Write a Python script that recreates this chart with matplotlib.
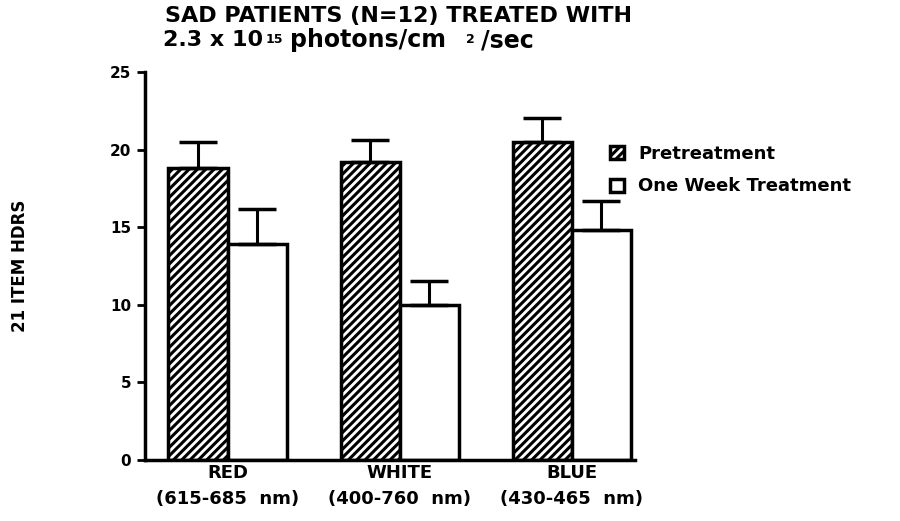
import numpy as np
import matplotlib.pyplot as plt

plt.rcParams['font.family'] = ['DejaVu Sans']
plt.rcParams['font.weight'] = 'bold'
plt.rcParams['hatch.linewidth'] = 2.2

groups = ["RED", "WHITE", "BLUE"]
ranges = ["(615-685  nm)", "(400-760  nm)", "(430-465  nm)"]
pre = [18.8, 19.2, 20.5]
pre_err = [1.7, 1.4, 1.5]
week = [13.9, 10.0, 14.8]
week_err = [2.3, 1.5, 1.9]

x = np.arange(len(groups))
w = 0.343

fig = plt.figure(figsize=(9, 5.21), dpi=100)
ax = fig.add_axes([0.161, 0.117, 0.545, 0.745])

ax.bar(x - w/2, pre, w, color='white', edgecolor='black', hatch='////', linewidth=2.5,
       yerr=[np.zeros(3), pre_err], error_kw=dict(ecolor='black', elinewidth=2.2, capsize=14, capthick=2.5),
       label='Pretreatment')
ax.bar(x + w/2, week, w, color='white', edgecolor='black', linewidth=2.5,
       yerr=[np.zeros(3), week_err], error_kw=dict(ecolor='black', elinewidth=2.2, capsize=14, capthick=2.5),
       label='One Week Treatment')

ax.set_xlim(-0.48, 2.37)
ax.set_ylim(0, 25)
ax.set_yticks([0, 5, 10, 15, 20, 25])
ax.tick_params(axis='y', direction='out', length=6, width=2, labelsize=11, pad=4)
ax.set_xticks([])
for s in ['top', 'right']:
    ax.spines[s].set_visible(False)
ax.spines['left'].set_linewidth(2.5)
ax.spines['bottom'].set_linewidth(2.5)

for i in range(len(groups)):
    ax.text(x[i], -0.25, groups[i], ha='center', va='top', fontsize=13, fontweight='bold')
    ax.text(x[i], -1.95, ranges[i], ha='center', va='top', fontsize=13, fontweight='bold')

ax.set_ylabel("21 ITEM HDRS", fontsize=12, fontweight='bold')
ax.yaxis.set_label_coords(-0.237, 0.5)

fig.text(0.183, 0.969, "SAD PATIENTS (N=12) TREATED WITH", fontsize=16, fontweight='bold', va='center')
# second title line built from pieces so the superscripts stay small
t1 = fig.text(0.181, 0.923, "2.3 x 10", fontsize=16, fontweight='bold', va='center')
t2 = ax.annotate("15", xy=(1, 0.88), xycoords=t1, xytext=(2, 0), textcoords='offset points',
                 fontsize=9, fontweight='bold', va='top')
t3 = ax.annotate("photons/cm", xy=(1, 0.5), xycoords=(t2, t1), xytext=(5, 0), textcoords='offset points',
                 fontsize=17, fontweight='bold', va='center')
t4 = ax.annotate("2", xy=(1, 0.88), xycoords=(t3, t1), xytext=(14, 0), textcoords='offset points',
                 fontsize=9, fontweight='bold', va='top')
t5 = ax.annotate("/sec", xy=(1, 0.5), xycoords=(t4, t1), xytext=(5, 0), textcoords='offset points',
                 fontsize=17, fontweight='bold', va='center')

ax.legend(loc='upper left', bbox_to_anchor=(0.93, 0.835), frameon=False, fontsize=13,
          borderpad=0, handlelength=0.75, handleheight=0.75, handletextpad=0.8, labelspacing=0.8)

fig.savefig("out.png", dpi=100)
